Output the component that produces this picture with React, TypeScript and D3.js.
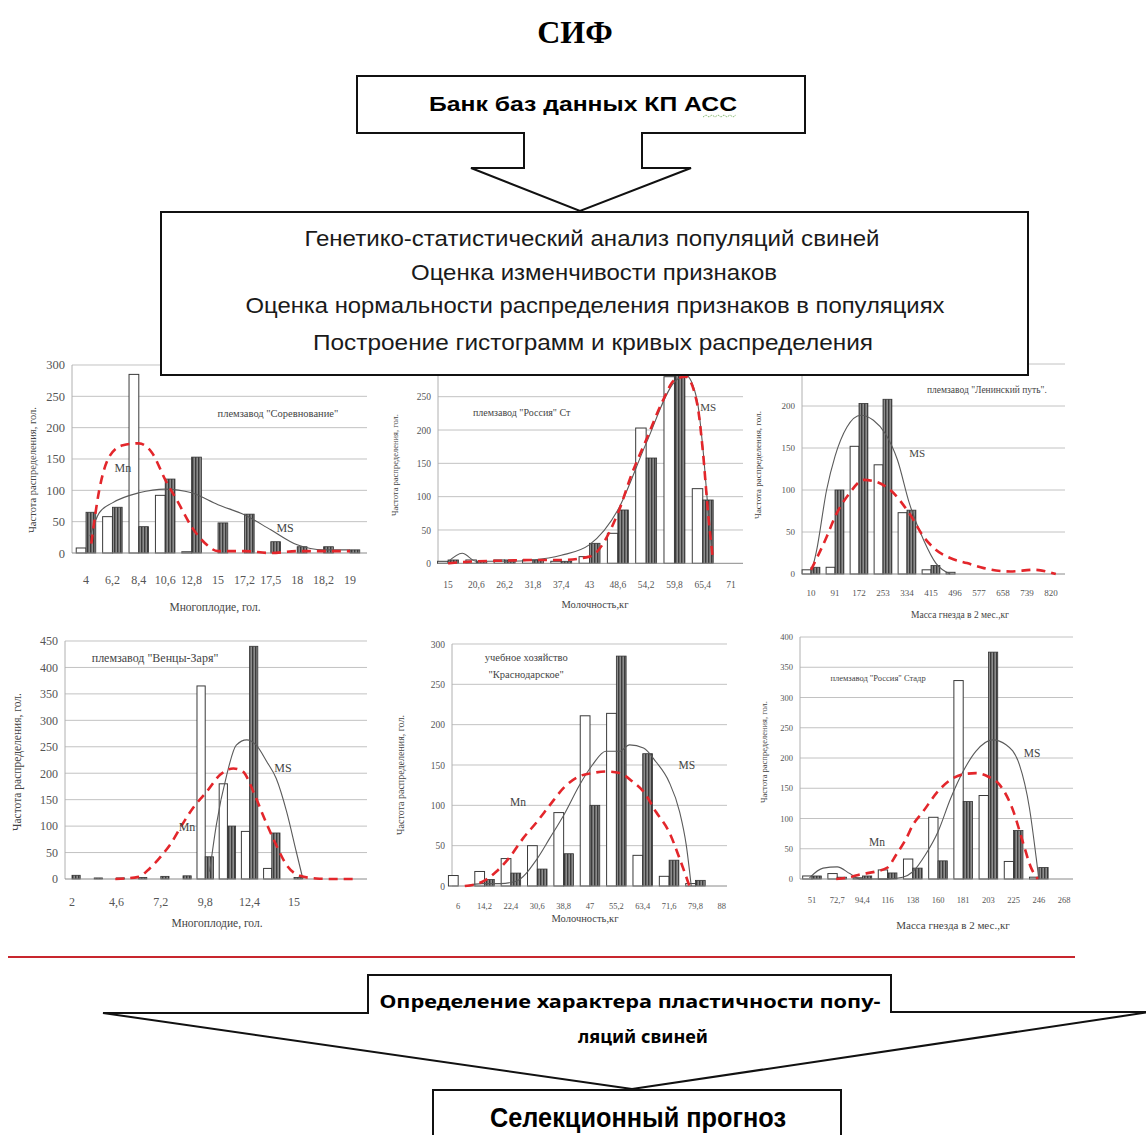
import React, { useEffect, useRef } from "react";
import * as d3 from "d3";

const NARROW = "'Liberation Sans Narrow', 'Arial Narrow', 'Liberation Sans', sans-serif";
const SERIF = "'Liberation Serif', 'Times New Roman', serif";
const SANS = "'Noto Sans', 'Open Sans', 'Liberation Sans', sans-serif";

// --- chart 1: Многоплодие, племзавод "Соревнование"
const cats1 = ["4", "6,2", "8,4", "10,6", "12,8", "15", "17,2", "17,5", "18", "18,2", "19"];
const open1 = [8, 58, 285, 92, 2, 0, 0, 0, 0, 0, 0];
const dark1 = [65, 73, 42, 118, 153, 48, 62, 18, 10, 10, 5];
const mn1 = [[0.2, 15], [0.5, 100], [0.9, 155], [1.4, 172], [2, 175], [2.5, 160], [3, 117], [3.5, 80], [4, 42], [4.5, 16], [5, 3], [6, 3], [7, 0], [8, 3], [9, 3], [10, 3]];
const ms1 = [[0.15, 27], [0.5, 64], [1, 80], [2, 96], [3, 102], [4, 96], [5, 77], [6, 61], [7, 37], [8, 13], [9, 5], [10, 5]];
const yTicks1 = [0, 50, 100, 150, 200, 250, 300];

// --- chart 2: Молочность, племзавод "Россия" Ст
const cats2 = ["15", "20,6", "26,2", "31,8", "37,4", "43", "48,6", "54,2", "59,8", "65,4", "71"];
const open2 = [3, 5, 5, 5, 3, 10, 45, 203, 280, 112, 0];
const dark2 = [5, 3, 5, 5, 3, 30, 80, 158, 295, 95, 0];
const mn2 = [[0, 0], [1, 3], [2, 4], [3, 5], [4, 5], [5, 10], [6, 75], [6.5, 135], [7, 185], [7.6, 245], [8, 275], [8.4, 280], [8.8, 240], [9, 170], [9.2, 70], [9.35, 10]];
const ms2 = [[0, 2], [0.5, 15], [1, 3], [2, 3], [3, 5], [4, 12], [5, 28], [6, 80], [7, 180], [8, 272], [8.4, 282], [8.8, 245], [9, 175], [9.2, 75], [9.35, 10]];
const yTicks2 = [0, 50, 100, 150, 200, 250, 300];

// --- chart 3: Масса гнезда, племзавод "Ленинский путь"
const cats3 = ["10", "91", "172", "253", "334", "415", "496", "577", "658", "739", "820"];
const open3 = [5, 8, 152, 130, 73, 5, 2, 0, 0, 0, 0];
const dark3 = [8, 100, 203, 208, 76, 10, 0, 0, 0, 0, 0];
const mn3 = [[0, 5], [0.65, 44], [1, 68], [1.6, 96], [2.2, 112], [2.7, 110], [3.3, 100], [4.1, 72], [4.7, 44], [5.2, 29], [5.8, 19], [6.5, 13], [7.2, 7], [8.3, 3], [9.3, 5], [10.2, 0]];
const ms3 = [[0, 0], [0.24, 29], [0.65, 100], [1, 140], [1.5, 175], [2.08, 189], [2.6, 183], [3.1, 167], [3.6, 136], [4.1, 84], [4.7, 40], [5.2, 13], [5.8, 0]];
const yTicks3 = [0, 50, 100, 150, 200, 250];

// --- chart 4: Многоплодие, племзавод "Венцы-Заря"
const cats4 = ["2", "3,3", "4,6", "5,9", "7,2", "8,5", "9,8", "11,1", "12,4", "13,7", "15", "16,3", "17,6"];
const shown4 = ["2", "4,6", "7,2", "9,8", "12,4", "15"];
const open4 = [0, 0, 0, 0, 0, 0, 365, 180, 90, 20, 0, 0, 0];
const dark4 = [7, 2, 2, 3, 5, 6, 42, 100, 440, 87, 3, 0, 0];
const mn4 = [[1.95, 0], [3, 4], [3.5, 20], [4.05, 45], [4.5, 70], [4.95, 102], [5.5, 137], [6.07, 165], [6.67, 197], [7.27, 209], [7.7, 203], [8.17, 165], [8.6, 121], [9.2, 64], [9.67, 26], [10.27, 6], [11, 1], [11.8, 0], [12.7, 0]];
const ms4 = [[6.2, 14], [6.5, 102], [6.97, 197], [7.4, 253], [7.87, 263], [8.3, 253], [8.77, 222], [9.2, 190], [9.67, 127], [10.1, 52], [10.4, 0]];
const yTicks4 = [0, 50, 100, 150, 200, 250, 300, 350, 400, 450];

// --- chart 5: Молочность, учебное хозяйство "Краснодарское"
const cats5 = ["6", "14,2", "22,4", "30,6", "38,8", "47", "55,2", "63,4", "71,6", "79,8", "88"];
const open5 = [13, 18, 34, 50, 91, 211, 214, 38, 12, 3, 0];
const dark5 = [0, 8, 16, 21, 40, 100, 285, 164, 32, 7, 0];
const mn5 = [[0.25, 0], [0.9, 5], [1.45, 18], [1.96, 36], [2.46, 59], [3, 80], [3.47, 100], [4.04, 123], [4.6, 136], [5.09, 140], [5.6, 142], [6.12, 140], [6.63, 129], [7.03, 117], [7.5, 92], [8, 67], [8.4, 34], [8.77, 0]];
const ms5 = [[0.3, 0], [0.9, 3], [1.6, 3], [2.2, 6], [3, 34], [3.47, 59], [4.04, 90], [4.6, 125], [5.09, 150], [5.6, 167], [6.12, 167], [6.5, 175], [7.03, 171], [7.5, 154], [8, 129], [8.4, 92], [8.65, 51], [8.84, 0]];
const yTicks5 = [0, 50, 100, 150, 200, 250, 300];

// --- chart 6: Масса гнезда, племзавод "Россия" Стадр
const cats6 = ["51", "72,7", "94,4", "116", "138", "160", "181", "203", "225", "246", "268"];
const open6 = [5, 9, 2, 15, 33, 102, 328, 138, 29, 3, 0];
const dark6 = [5, 3, 5, 10, 18, 30, 128, 375, 80, 19, 0];
const mn6 = [[0.96, 0], [1.5, 3], [1.96, 8], [2.5, 12], [3, 19], [3.34, 40], [3.74, 67], [4, 89], [4.4, 111], [5, 145], [5.5, 164], [6, 173], [6.5, 175], [7, 169], [7.44, 156], [8, 111], [8.36, 62], [8.7, 18], [8.96, 0]];
const ms6 = [[-0.1, 2], [0.44, 18], [1, 20], [1.5, 9], [1.9, 0], [3, 0], [3.6, 3], [4, 12], [4.5, 40], [5, 78], [5.5, 133], [6, 178], [6.5, 211], [7.17, 230], [7.7, 222], [8.23, 189], [8.63, 117], [8.9, 34], [9, 0]];
const yTicks6 = [0, 50, 100, 150, 200, 250, 300, 350, 400];

const yTitle = "Частота распределения, гол.";

// layout of each small chart on the page
const L1 = { axisX: 72, band: [72.8, 363.2], gridEnd: 367, y0: 553, k: 0.6267, tickY: 580, tickFs: 12, yFs: 12.5, xTitle: [215, 607], xTitleFs: 11.5, yTitle: [32, 470], yTitleFs: 10.5, titleAt: [7.27, 223], titleFs: 10.5, mnAt: [1.4, 136], msAt: [7.54, 41], labFs: 12 };
const L2 = { axisX: 438, band: [433.9, 745.2], gridEnd: 743, y0: 563.3, k: 0.6664, tickY: 585, tickFs: 9.5, yFs: 9.5, xTitle: [595, 604], xTitleFs: 10.5, yTitle: [395, 465], yTitleFs: 8.5, titleAt: [2.6, 227], titleFs: 10, mnAt: null, msAt: [9.19, 235], labFs: 11 };
const L3 = { axisX: 802, band: [799, 1063], gridEnd: 1065, y0: 574, k: 0.84, tickY: 593, tickFs: 9, yFs: 9, xTitle: [960, 615], xTitleFs: 9.5, yTitle: [758, 465], yTitleFs: 9, titleAt: [7.33, 220], titleFs: 9.5, mnAt: null, msAt: [4.42, 144], labFs: 11 };
const L4 = { axisX: 65, band: [60.9, 349.5], gridEnd: 367, y0: 879, k: 0.5289, tickY: 902, tickFs: 12, yFs: 12, xTitle: [217, 923], xTitleFs: 11.5, yTitle: [17, 762], yTitleFs: 11.5, titleAt: [3.74, 418], titleFs: 12, mnAt: [5.18, 98], msAt: [9.5, 210], labFs: 12 };
const L5 = { axisX: 452, band: [445, 735], gridEnd: 727, y0: 886, k: 0.8067, tickY: 906, tickFs: 8.5, yFs: 9.5, xTitle: [585, 918], xTitleFs: 10.5, yTitle: [400, 775], yTitleFs: 10, titleAt: [2.58, 284], titleFs: 10.5, mnAt: [2.27, 104], msAt: [8.67, 150], labFs: 11.5 };
const L6 = { axisX: 800, band: [799.4, 1076.6], gridEnd: 1073, y0: 879, k: 0.605, tickY: 900, tickFs: 8.5, yFs: 8.5, xTitle: [953, 925], xTitleFs: 11, yTitle: [764, 752], yTitleFs: 8.5, titleAt: [2.62, 332], titleFs: 8.5, mnAt: [2.58, 61], msAt: [8.73, 208], labFs: 11.5 };

const charts = [
  { cats: cats1, shown: cats1, open: open1, dark: dark1, mn: mn1, ms: ms1, yTicks: yTicks1, title: ['племзавод "Соревнование"'], xTitle: "Многоплодие, гол.", lay: L1 },
  { cats: cats2, shown: cats2, open: open2, dark: dark2, mn: mn2, ms: ms2, yTicks: yTicks2, title: ['племзавод "Россия" Ст'], xTitle: "Молочность,кг", lay: L2 },
  { cats: cats3, shown: cats3, open: open3, dark: dark3, mn: mn3, ms: ms3, yTicks: yTicks3, title: ['племзавод "Ленинский путь".'], xTitle: "Масса гнезда в 2 мес.,кг", lay: L3 },
  { cats: cats4, shown: shown4, open: open4, dark: dark4, mn: mn4, ms: ms4, yTicks: yTicks4, title: ['племзавод "Венцы-Заря"'], xTitle: "Многоплодие, гол.", lay: L4 },
  { cats: cats5, shown: cats5, open: open5, dark: dark5, mn: mn5, ms: ms5, yTicks: yTicks5, title: ["учебное хозяйство", '"Краснодарское"'], xTitle: "Молочность,кг", lay: L5 },
  { cats: cats6, shown: cats6, open: open6, dark: dark6, mn: mn6, ms: ms6, yTicks: yTicks6, title: ['племзавод "Россия" Стадр'], xTitle: "Масса гнезда в 2 мес.,кг", lay: L6 },
];

function drawChart(root, c) {
  const L = c.lay;
  const g = root.append("g");
  const yMax = c.yTicks[c.yTicks.length - 1];
  const x = d3.scaleBand().domain(c.cats).range(L.band);
  const y = d3.scaleLinear().domain([0, yMax]).range([L.y0, L.y0 - yMax * L.k]);
  const c0 = x(c.cats[0]) + x.bandwidth() / 2;
  const xi = d3.scaleLinear().domain([0, c.cats.length - 1]).range([c0, c0 + x.step() * (c.cats.length - 1)]);

  // grid
  g.selectAll(".grid")
    .data(c.yTicks.filter(v => v > 0))
    .enter()
    .append("line")
    .attr("x1", L.axisX)
    .attr("x2", L.gridEnd)
    .attr("y1", d => y(d))
    .attr("y2", d => y(d))
    .attr("stroke", "#c2c2c2")
    .attr("stroke-width", 1);
  g.append("line")
    .attr("x1", L.axisX).attr("x2", L.axisX)
    .attr("y1", L.y0).attr("y2", y(yMax))
    .attr("stroke", "#b0b0b0");

  const ya = g.append("g")
    .attr("transform", `translate(${L.axisX},0)`)
    .call(d3.axisLeft(y).tickValues(c.yTicks).tickSize(0).tickPadding(7));
  ya.select(".domain").remove();
  ya.selectAll("text").attr("font-family", SERIF).attr("font-size", L.yFs).attr("fill", "#555");

  const xa = g.append("g")
    .attr("transform", `translate(0,${L.y0})`)
    .call(d3.axisBottom(x).tickSize(0)
      .tickPadding(L.tickY - L.y0 - 0.36 * L.tickFs)
      .tickFormat(d => (c.shown.includes(d) ? d : "")));
  xa.select(".domain").remove();
  xa.selectAll("text").attr("font-family", SERIF).attr("font-size", L.tickFs).attr("fill", "#555");

  // bars
  const inner = d3.scaleBand().domain(["open", "dark"]).range([0, x.bandwidth() * 0.74]);
  const off = x.bandwidth() * 0.13;
  g.selectAll(".open")
    .data(c.open.map((v, i) => ({ cat: c.cats[i], v })).filter(d => d.v > 0))
    .enter()
    .append("rect")
    .attr("x", d => x(d.cat) + off + inner("open"))
    .attr("y", d => y(d.v))
    .attr("width", inner.bandwidth())
    .attr("height", d => L.y0 - y(d.v))
    .attr("fill", "#fff")
    .attr("stroke", "#3a3a3a")
    .attr("stroke-width", 1);
  g.selectAll(".dark")
    .data(c.dark.map((v, i) => ({ cat: c.cats[i], v })).filter(d => d.v > 0))
    .enter()
    .append("rect")
    .attr("x", d => x(d.cat) + off + inner("dark"))
    .attr("y", d => y(d.v))
    .attr("width", inner.bandwidth())
    .attr("height", d => L.y0 - y(d.v))
    .attr("fill", "url(#hatch)")
    .attr("stroke", "#333")
    .attr("stroke-width", 0.8);

  g.append("line")
    .attr("x1", L.axisX).attr("x2", L.gridEnd)
    .attr("y1", L.y0).attr("y2", L.y0)
    .attr("stroke", "#8a8a8a");

  // curves
  const line = d3.line().x(d => xi(d[0])).y(d => y(d[1])).curve(d3.curveMonotoneX);
  g.append("path").attr("d", line(c.ms)).attr("fill", "none").attr("stroke", "#5a5a5a").attr("stroke-width", 1.1);
  g.append("path").attr("d", line(c.mn)).attr("fill", "none").attr("stroke", "#e3262b")
    .attr("stroke-width", 2.6).attr("stroke-dasharray", "9 6");

  // texts
  const label = (at, txt, fs) =>
    g.append("text")
      .attr("x", xi(at[0])).attr("y", y(at[1]) + 0.35 * fs)
      .attr("text-anchor", "middle")
      .attr("font-family", SERIF).attr("font-size", fs).attr("fill", "#444")
      .text(txt);
  if (L.mnAt) label(L.mnAt, "Mn", L.labFs);
  if (L.msAt) label(L.msAt, "MS", L.labFs);
  c.title.forEach((t, i) => {
    g.append("text")
      .attr("x", xi(L.titleAt[0]))
      .attr("y", y(L.titleAt[1]) + 0.35 * L.titleFs + i * L.titleFs * 1.7)
      .attr("text-anchor", "middle")
      .attr("font-family", SERIF).attr("font-size", L.titleFs).attr("fill", "#444")
      .text(t);
  });
  g.append("text")
    .attr("x", L.xTitle[0]).attr("y", L.xTitle[1] + 0.35 * L.xTitleFs)
    .attr("text-anchor", "middle")
    .attr("font-family", SERIF).attr("font-size", L.xTitleFs).attr("fill", "#444")
    .text(c.xTitle);
  g.append("text")
    .attr("transform", `translate(${L.yTitle[0] + 0.35 * L.yTitleFs},${L.yTitle[1]}) rotate(-90)`)
    .attr("text-anchor", "middle")
    .attr("font-family", SERIF).attr("font-size", L.yTitleFs).attr("fill", "#444")
    .text(yTitle);
}

const boxLines = [
  "Генетико-статистический анализ популяций свиней",
  "Оценка изменчивости признаков",
  "Оценка нормальности распределения признаков в популяциях",
  "Построение гистограмм и кривых распределения",
];
const boxLineY = [246, 280, 313, 350];
const boxLineX = [592, 594, 595, 593];
const boxLineW = [575, 366, 699, 560];

const App = () => {
  const ref = useRef(null);

  useEffect(() => {
    const root = d3.select(ref.current);
    root.selectAll("*").remove();
    charts.forEach(c => drawChart(root, c));
  }, []);

  return (
    <svg width={1146} height={1135} style={{ position: "absolute", left: 0, top: 0, background: "#fff" }}>
      <defs>
        <pattern id="hatch" width="3" height="4" patternUnits="userSpaceOnUse">
          <rect width="3" height="4" fill="#8c8c8c" />
          <rect width="1.4" height="4" fill="#3c3c3c" />
        </pattern>
      </defs>
      <rect width={1146} height={1135} fill="#fff" />
      <g ref={ref} />

      {/* header */}
      <text x={575} y={43} textAnchor="middle" fontFamily={SERIF} fontWeight="bold" fontSize={32}>СИФ</text>
      <path
        d="M357,76 L805,76 L805,133 L642,133 L642,168 L691,168 L580,211 L471,168 L524,168 L524,133 L357,133 Z"
        fill="#fff" stroke="#111" strokeWidth={2} />
      <text x={583} y={111} textAnchor="middle" fontFamily={NARROW} fontWeight="bold" fontSize={20}
        textLength={308} lengthAdjust="spacingAndGlyphs">Банк баз данных КП АСС</text>
      <path d="M703,117 l3,-2 l3,2 l3,-2 l3,2 l3,-2 l3,2 l3,-2 l3,2 l3,-2 l3,2 l3,-2" fill="none" stroke="#6aa84f" strokeWidth={1} strokeDasharray="1 1" />

      <rect x={161} y={212} width={867} height={163} fill="#fff" stroke="#111" strokeWidth={2} />
      {boxLines.map((t, i) => (
        <text key={t} x={boxLineX[i]} y={boxLineY[i]} textAnchor="middle" fontFamily={NARROW} fontSize={22}
          fill="#1a1a1a" textLength={boxLineW[i]} lengthAdjust="spacingAndGlyphs">{t}</text>
      ))}

      {/* footer */}
      <line x1={8} x2={1075} y1={957} y2={957} stroke="#c8262e" strokeWidth={2} />
      <path d="M103,1013 L368,1013 L368,975 L891,975 L891,1012 L1150,1012 L632,1089 Z"
        fill="#fff" stroke="#111" strokeWidth={2} />
      <text x={630} y={1008} textAnchor="middle" fontFamily={SANS} fontWeight="bold" fontSize={18}
        textLength={501} lengthAdjust="spacingAndGlyphs">Определение характера пластичности попу-</text>
      <text x={643} y={1043} textAnchor="middle" fontFamily={SANS} fontWeight="bold" fontSize={18}
        textLength={130} lengthAdjust="spacingAndGlyphs">ляций свиней</text>
      <rect x={433} y={1090} width={408} height={60} fill="#fff" stroke="#111" strokeWidth={2} />
      <text x={638} y={1127} textAnchor="middle" fontFamily={NARROW} fontWeight="bold" fontSize={27}
        textLength={296} lengthAdjust="spacingAndGlyphs">Селекционный прогноз</text>
    </svg>
  );
};

export default App;
